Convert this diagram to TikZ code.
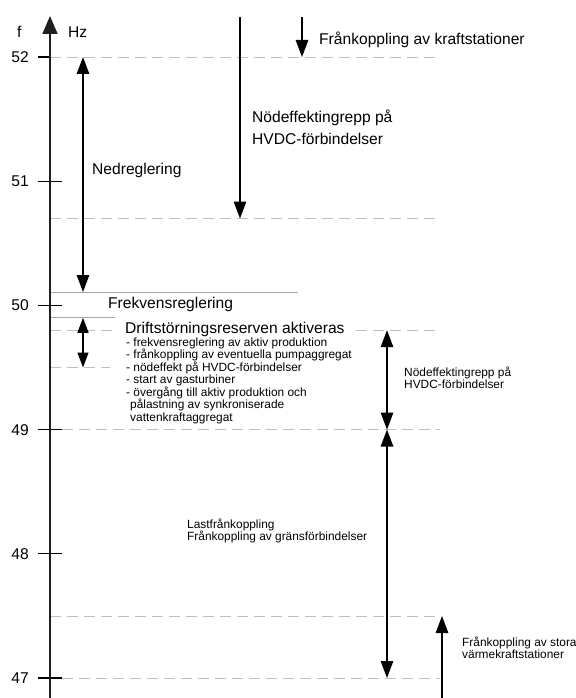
\documentclass[tikz,border=0pt]{standalone}
\usepackage{fontspec}
\setmainfont{Liberation Sans}
\usetikzlibrary{arrows.meta}
\newcommand\mybig{\fontsize{15.6bp}{18bp}\selectfont}
\newcommand\mysmall{\fontsize{11.9bp}{12.5bp}\selectfont}
\definecolor{dashgray}{HTML}{BEBEBE}
\definecolor{solidgray}{HTML}{A8A8A8}
\begin{document}
\begin{tikzpicture}[x=1bp,y=-1bp,
  dashline/.style={draw=dashgray,line width=0.9bp,dash pattern=on 11bp off 6bp},
  solidline/.style={draw=solidgray,line width=0.9bp},
  tickline/.style={draw=black,line width=1.1bp},
  axisline/.style={draw=black!88,line width=1.6bp,-{Triangle[length=18bp,width=15bp]}},
  arr/.style={draw=black,line width=1.3bp,-{Triangle[length=17bp,width=12.5bp]}},
  darr/.style={draw=black,line width=1.3bp,{Triangle[length=17bp,width=12.5bp]}-{Triangle[length=17bp,width=12.5bp]}},
  sarr/.style={draw=black,line width=1.3bp,{Triangle[length=15bp,width=11bp]}-{Triangle[length=15bp,width=11bp]}},
  bigtxt/.style={inner sep=0pt,anchor=base west,font=\mybig},
  smalltxt/.style={inner sep=0pt,anchor=base west,font=\mysmall},
  numtxt/.style={inner sep=0pt,anchor=base east,font=\mybig}]
\useasboundingbox (0,0) rectangle (576,698);

% ---- reference coordinates ----
\coordinate (dA1) at (50,57);    \coordinate (dA2) at (440,57);
\coordinate (dB1) at (50,218.5); \coordinate (dB2) at (440,218.5);
\coordinate (sC1) at (50,292);   \coordinate (sC2) at (298,292);
\coordinate (sD1) at (50,317.8); \coordinate (sD2) at (115,317.8);
\coordinate (dE1) at (50,330.2); \coordinate (dE2) at (112,330.2);
\coordinate (dE3) at (356,330.2);\coordinate (dE4) at (440,330.2);
\coordinate (dF1) at (50,367.5); \coordinate (dF2) at (110,367.5);
\coordinate (dG1) at (62,429.6); \coordinate (dG2) at (440,429.6);
\coordinate (dH1) at (50,616);   \coordinate (dH2) at (440,616);
\coordinate (dI1) at (62,678);   \coordinate (dI2) at (440,678);

% dashed and solid guide lines
\draw[dashline] (dA1) -- (dA2);
\draw[dashline] (dB1) -- (dB2);
\draw[solidline] (sC1) -- (sC2);
\draw[solidline] (sD1) -- (sD2);
\draw[dashline] (dE1) -- (dE2);
\draw[dashline] (dE3) -- (dE4);
\draw[dashline] (dF1) -- (dF2);
\draw[dashline] (dG1) -- (dG2);
\draw[dashline] (dH1) -- (dH2);
\draw[dashline] (dI1) -- (dI2);

% ticks
\coordinate (t52a) at (38,57);    \coordinate (t52b) at (50,57);
\coordinate (t51a) at (38,181.2); \coordinate (t51b) at (62,181.2);
\coordinate (t50a) at (38,305.4); \coordinate (t50b) at (62,305.4);
\coordinate (t49a) at (38,429.6); \coordinate (t49b) at (62,429.6);
\coordinate (t48a) at (38,553.8); \coordinate (t48b) at (62,553.8);
\coordinate (t47a) at (38,678);   \coordinate (t47b) at (62,678);
\draw[tickline] (t52a) -- (t52b);
\draw[tickline] (t51a) -- (t51b);
\draw[tickline] (t50a) -- (t50b);
\draw[tickline] (t49a) -- (t49b);
\draw[tickline] (t48a) -- (t48b);
\draw[tickline] (t47a) -- (t47b);

% axis
\coordinate (axB) at (50,700);
\coordinate (axT) at (50,16);
\draw[axisline] (axB) -- (axT);

% arrows
\coordinate (nedT) at (83,57);   \coordinate (nedB) at (83,292);
\draw[darr] (nedB) -- (nedT);
\coordinate (nodT) at (240,17);  \coordinate (nodB) at (240,218.5);
\draw[arr] (nodT) -- (nodB);
\coordinate (frkT) at (302,17);  \coordinate (frkB) at (302,57);
\draw[arr] (frkT) -- (frkB);
\coordinate (drT) at (83,317.8); \coordinate (drB) at (83,367.5);
\draw[sarr] (drT) -- (drB);
\coordinate (r1T) at (387,330.2); \coordinate (r1B) at (387,429.6);
\draw[darr] (r1T) -- (r1B);
\coordinate (r2T) at (387,429.6); \coordinate (r2B) at (387,678);
\draw[darr] (r2T) -- (r2B);
\coordinate (vkB) at (442,700);  \coordinate (vkT) at (442,616);
\draw[arr] (vkB) -- (vkT);

% axis labels
\node[bigtxt] (lf) at (17,37.5) {f};
\node[bigtxt] (lhz) at (68,37.5) {Hz};
\node[numtxt] (n52) at (29,62.5) {52};
\node[numtxt] (n51) at (29,186.7) {51};
\node[numtxt] (n50) at (29,310.9) {50};
\node[numtxt] (n49) at (29,435.1) {49};
\node[numtxt] (n48) at (29,559.3) {48};
\node[numtxt] (n47) at (29,683.5) {47};

% texts
\node[bigtxt] (tfrk) at (319,44.5) {Frånkoppling av kraftstationer};
\node[bigtxt] (tnod1) at (252,122.5) {Nödeffektingrepp på};
\node[bigtxt] (tnod2) at (252,144.5) {HVDC-förbindelser};
\node[bigtxt] (tned) at (92,174.5) {Nedreglering};
\node[bigtxt] (tfrek) at (108,308.5) {Frekvensreglering};
\node[bigtxt] (tdrift) at (125,333) {Driftstörningsreserven aktiveras};
\node[smalltxt] (b1) at (126,346) {- frekvensreglering av aktiv produktion};
\node[smalltxt] (b2) at (126,358.5) {- frånkoppling av eventuella pumpaggregat};
\node[smalltxt] (b3) at (126,371) {- nödeffekt på HVDC-förbindelser};
\node[smalltxt] (b4) at (126,383.5) {- start av gasturbiner};
\node[smalltxt] (b5) at (126,396) {- övergång till aktiv produktion och};
\node[smalltxt] (b6) at (130,408.5) {pålastning av synkroniserade};
\node[smalltxt] (b7) at (130,421) {vattenkraftaggregat};
\node[smalltxt] (tr1) at (404,376) {Nödeffektingrepp på};
\node[smalltxt] (tr2) at (404,388.5) {HVDC-förbindelser};
\node[smalltxt] (tl1) at (187,528) {Lastfrånkoppling};
\node[smalltxt] (tl2) at (187,540.5) {Frånkoppling av gränsförbindelser};
\node[smalltxt] (tv1) at (462,646) {Frånkoppling av stora};
\node[smalltxt] (tv2) at (462,658.5) {värmekraftstationer};
\end{tikzpicture}
\end{document}
